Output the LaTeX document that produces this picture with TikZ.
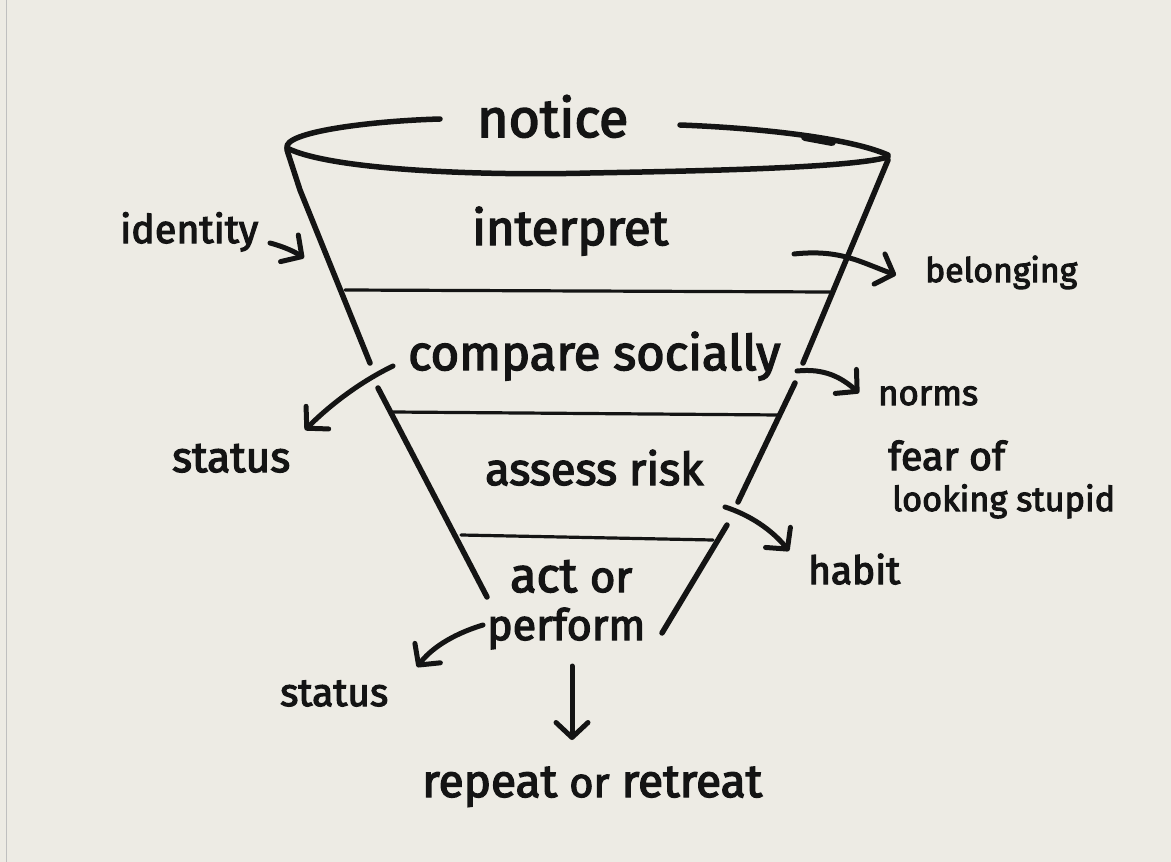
\documentclass[tikz,border=0pt]{standalone}
\usepackage{fontspec}
\setmainfont{Fira Sans}[FakeBold=3]
\usetikzlibrary{arrows.meta}
\definecolor{paper}{RGB}{237,235,228}
\definecolor{ink}{RGB}{20,20,20}
\newcommand{\fitw}[2]{\resizebox{#1pt}{!}{#2}}
\begin{document}
\begin{tikzpicture}[x=1pt,y=-1pt,
  lbl/.style={anchor=base west,inner sep=0pt,text=ink},
  wall/.style={draw=ink,line width=5.5pt,line cap=round,line join=round},
  divider/.style={draw=ink,line width=3.2pt,line cap=round},
  arr/.style={draw=ink,line width=5pt,line cap=round,line join=round,
    -{Straight Barb[length=15pt,width=32pt,line width=5pt,round]}}]
\useasboundingbox (0,0) rectangle (1171,862);
\fill[paper] (0,0) rectangle (1171,862);
\draw[black!25,line width=0.6pt] (6,0) -- (6,862);

% labels
\node[lbl] (notice) at (477,137) {\fitw{151}{notice}};
\node[lbl] (interpret) at (472,245) {\fitw{196}{interpret}};
\node[lbl] (compare) at (408,370) {\fitw{372}{compare socially}};
\node[lbl] (assess) at (485,485) {\fitw{218}{assess risk}};
\node[lbl] (actor) at (510,592) {\fitw{122}{act {\small or}}};
\node[lbl] (perform) at (487,640) {\fitw{158}{perform}};
\node[lbl] (repeat) at (422,797) {\fitw{340}{repeat {\small or} retreat}};
\node[lbl] (identity) at (120,243) {\fitw{138}{identity}};
\node[lbl] (belonging) at (925,282) {\fitw{152}{belonging}};
\node[lbl] (statusL) at (172,472) {\fitw{118}{status}};
\node[lbl] (norms) at (878,405) {\fitw{100}{norms}};
\node[lbl] (fear) at (888,470) {\fitw{117}{fear of}};
\node[lbl] (looking) at (892,511) {\fitw{223}{looking stupid}};
\node[lbl] (habit) at (808,584) {\fitw{92}{habit}};
\node[lbl] (statusB) at (280,706) {\fitw{108}{status}};

% funnel rim
\draw[wall] (287,148) .. controls (330,170) and (480,176) .. (590,173)
  .. controls (700,171) and (850,168) .. (888,157);
\draw[wall] (287,148) .. controls (283,132) and (370,121) .. (440,119);
\draw[wall] (680,125) .. controls (760,128) and (850,138) .. (888,155);
\draw[ink,line width=8pt,line cap=round] (805,137) -- (832,142);

% funnel walls
\draw[wall] (287,150) -- (300,190) -- (370,363);
\draw[wall] (378,388) -- (487,597);
\draw[wall] (888,160) -- (803,363);
\draw[wall] (795,383) -- (738,502);
\draw[wall] (727,525) -- (662,633);

% dividers
\draw[divider] (345,290) -- (830,292);
\draw[divider] (393,412) -- (780,415);
\draw[divider] (461,535) -- (713,540);

% arrow coordinates
\coordinate (idT) at (270,243);
\coordinate (idH) at (304,258);
\coordinate (beT) at (794,254);
\coordinate (beH) at (896,275);
\coordinate (coT) at (393,366);
\coordinate (coH) at (305,430);
\coordinate (noT) at (797,371);
\coordinate (noH) at (859,393);
\coordinate (asT) at (725,507);
\coordinate (asH) at (789,551);
\coordinate (peT) at (483,625);
\coordinate (peH) at (417,667);
\coordinate (dnT) at (572,666);
\coordinate (dnH) at (572,740);

\draw[arr] (idT) .. controls (285,247) and (295,252) .. (idH);
\draw[arr] (beT) .. controls (840,249) and (860,262) .. (beH);
\draw[arr] (coT) .. controls (360,382) and (330,405) .. (coH);
\draw[arr] (noT) .. controls (825,368) and (842,378) .. (noH);
\draw[arr] (asT) .. controls (750,515) and (772,530) .. (asH);
\draw[arr] (peT) .. controls (450,635) and (430,650) .. (peH);
\draw[arr] (dnT) -- (dnH);
\end{tikzpicture}
\end{document}
